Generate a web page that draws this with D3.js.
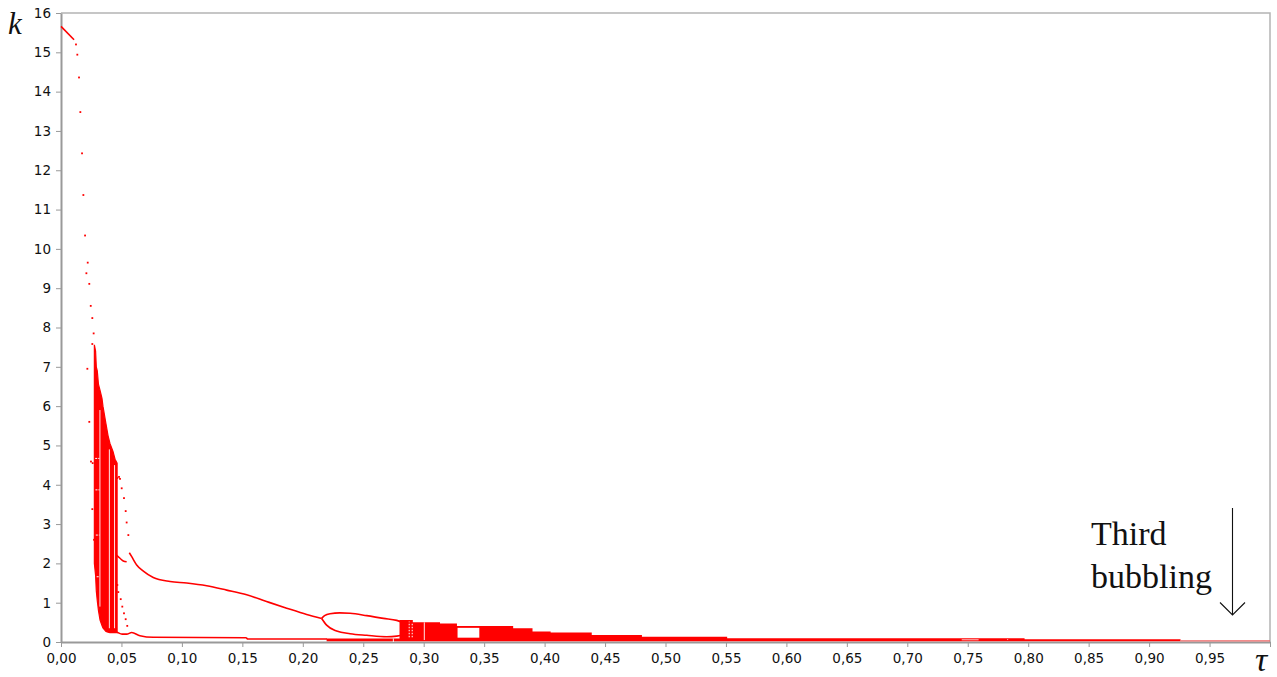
<!DOCTYPE html>
<html>
<head>
<meta charset="utf-8">
<script src="https://cdn.jsdelivr.net/npm/d3@7"></script>
<style>
  html, body { margin: 0; padding: 0; background: #fff; }
  #chart { width: 1277px; height: 677px; }
</style>
</head>
<body>
<div id="chart"></div>
<script>
(function () {
  const W = 1277, H = 677;
  const PLOT = { left: 61, right: 1270, top: 13, bottom: 642 };
  const RED = "#ff0000";

  // tick values
  const xTicks = [0, 0.05, 0.10, 0.15, 0.20, 0.25, 0.30, 0.35, 0.40, 0.45, 0.50,
                  0.55, 0.60, 0.65, 0.70, 0.75, 0.80, 0.85, 0.90, 0.95];
  const yTicks = [0, 1, 2, 3, 4, 5, 6, 7, 8, 9, 10, 11, 12, 13, 14, 15, 16];

  // [tau, k] readings
  const startLine = [[0, 15.66], [0.0108, 15.32]];
  const dropDots = [
    [0.0124, 15.2], [0.0135, 14.94], [0.0149, 14.36], [0.0160, 13.48],
    [0.0174, 12.43], [0.0185, 11.37], [0.0199, 10.34], [0.0221, 9.65],
    [0.0210, 9.38], [0.0234, 9.11], [0.0246, 8.55], [0.0259, 8.24],
    [0.0270, 7.85], [0.0259, 7.58]
  ];
  const leftDots = [
    [0.0218, 6.95], [0.0234, 5.6], [0.0248, 4.59], [0.0262, 4.55],
    [0.0259, 3.38], [0.0273, 2.6]
  ];
  const rightDotsHigh = [
    [0.0466, 4.17], [0.0480, 4.2], [0.0488, 4.15], [0.0502, 3.91],
    [0.0521, 3.66], [0.0535, 3.33], [0.0543, 3.04], [0.0557, 2.72]
  ];
  const rightDotsLow = [
    [0.0466, 1.45], [0.0474, 1.27], [0.0494, 1.09], [0.0507, 0.9],
    [0.0521, 0.73], [0.0535, 0.58], [0.0548, 0.41]
  ];

  // chaotic band: [tau, kLow, kHigh]
  const chaosBand = [
    [0.0276, 2.0, 7.56], [0.0286, 1.7, 7.4], [0.0292, 1.3, 7.0],
    [0.0300, 1.05, 6.9], [0.0310, 0.8, 6.55], [0.0323, 0.56, 6.4],
    [0.0339, 0.42, 6.2], [0.0347, 0.36, 6.0], [0.0372, 0.27, 5.55],
    [0.0389, 0.25, 5.25], [0.0405, 0.24, 5.05], [0.0430, 0.24, 4.85],
    [0.0447, 0.24, 4.65], [0.0464, 0.24, 4.55]
  ];
  // white slits inside the chaotic band: [tau, kLow, kHigh]
  const chaosGaps = [[0.0322, 0.9, 5.9], [0.0400, 0.35, 4.9], [0.0443, 0.35, 4.5]];
  // periodic windows seen as white dashes: [k, tau0, tau1]
  const chaosWindows = [[4.67, 0.0283, 0.0318], [3.87, 0.0285, 0.0318],
                        [2.72, 0.0288, 0.0318], [1.66, 0.0295, 0.0318]];

  const cuspLine = [[0.0452, 2.23], [0.0488, 2.13], [0.0515, 2.06], [0.0543, 2.04]];
  const upperBranch = [
    [0.0565, 2.27], [0.0585, 2.17], [0.0626, 1.96], [0.0681, 1.8],
    [0.0763, 1.64], [0.0902, 1.54], [0.1040, 1.5], [0.1205, 1.43],
    [0.1370, 1.32], [0.1536, 1.2], [0.1700, 1.03], [0.1867, 0.86],
    [0.2032, 0.70], [0.2156, 0.60]
  ];
  const bubbleUpper = [
    [0.2156, 0.60], [0.2180, 0.67], [0.2225, 0.72], [0.2305, 0.74],
    [0.2391, 0.73], [0.2529, 0.67], [0.2667, 0.60], [0.2777, 0.55],
    [0.2860, 0.45], [0.2900, 0.38]
  ];
  const bubbleLower = [
    [0.2156, 0.60], [0.2197, 0.43], [0.2280, 0.28], [0.2391, 0.21],
    [0.2529, 0.17], [0.2694, 0.135], [0.2777, 0.15], [0.2859, 0.22],
    [0.2900, 0.31]
  ];
  const lowerBranch = [
    [0.0440, 0.26], [0.0461, 0.25], [0.0505, 0.2], [0.0543, 0.2],
    [0.0585, 0.24], [0.0653, 0.16], [0.0763, 0.12], [0.1530, 0.11],
    [0.1545, 0.076], [0.2200, 0.076]
  ];
  // dense region along the bottom, step tops: [tau, kHigh]
  const bandTop = [
    [0.2197, 0.09], [0.2800, 0.56], [0.2910, 0.50], [0.3135, 0.47],
    [0.3275, 0.41], [0.3740, 0.35], [0.3900, 0.27], [0.4050, 0.24],
    [0.4390, 0.18], [0.4805, 0.135], [0.5510, 0.094], [0.7970, 0.07],
    [0.9260, 0.07]
  ];
  // white holes in the band: [tau0, tau1, kLow, kHigh]
  const bandHoles = [[0.328, 0.346, 0.11, 0.36], [0.745, 0.759, 0.045, 0.065]];
  const bandGaps = [[0.3005, 0.05, 0.50], [0.2749, 0.0, 0.09], [0.7830, 0.05, 0.07]];
  const bandDotGaps = [[0.2880, 0.12, 0.52], [0.2905, 0.12, 0.50]];
  const tailLine = [[0.926, 0.03], [1.0, 0.03]];

  const svg = d3.select("#chart").append("svg")
    .attr("width", W)
    .attr("height", H);

  const x = d3.scaleLinear().domain([0, 1]).range([PLOT.left, PLOT.right]);
  const y = d3.scaleLinear().domain([0, 16]).range([PLOT.bottom, PLOT.top]);
  const fmtX = v => d3.format(".2f")(v).replace(".", ",");

  // frame
  svg.append("path")
    .attr("d", `M${PLOT.left},${PLOT.top}H${PLOT.right}V${PLOT.bottom}`)
    .attr("fill", "none")
    .attr("stroke", "#b4b4b4")
    .attr("stroke-width", 1.5);

  const xAxis = svg.append("g")
    .attr("transform", `translate(0,${PLOT.bottom})`)
    .call(d3.axisBottom(x).tickValues(xTicks.concat([1])).tickFormat(fmtX)
      .tickSize(5).tickSizeOuter(0));
  xAxis.selectAll(".tick").filter(d => d === 1).select("text").remove();

  const yAxis = svg.append("g")
    .attr("transform", `translate(${PLOT.left},0)`)
    .call(d3.axisLeft(y).tickValues(yTicks).tickFormat(d3.format("d"))
      .tickSize(5).tickSizeOuter(0));

  [xAxis, yAxis].forEach(g => {
    g.select(".domain").attr("stroke", "#999").attr("stroke-width", 2);
    g.selectAll(".tick line").attr("stroke", "#999");
    g.selectAll(".tick text")
      .attr("fill", "#111")
      .style("font-family", "'DejaVu Sans', Verdana, sans-serif")
      .style("font-size", "13.5px");
  });
  xAxis.selectAll(".tick text").attr("dy", "0.98em");
  yAxis.selectAll(".tick text").attr("x", -10);

  const marks = svg.append("g");
  const line = d3.line().x(d => x(d[0])).y(d => y(d[1]));

  // dense band along the bottom
  marks.append("path")
    .datum(bandTop)
    .attr("d", d3.area().curve(d3.curveStepAfter)
      .x(d => x(d[0])).y0(y(0.02)).y1(d => y(d[1])))
    .attr("fill", RED);

  // chaotic band
  marks.append("path")
    .datum(chaosBand)
    .attr("d", d3.area().x(d => x(d[0])).y0(d => y(d[1])).y1(d => y(d[2])))
    .attr("fill", RED)
    .attr("stroke", RED)
    .attr("stroke-width", 1.2);

  // curves
  [startLine, cuspLine, upperBranch, bubbleUpper, bubbleLower, lowerBranch].forEach(s => {
    marks.append("path")
      .datum(s)
      .attr("d", line.curve(d3.curveMonotoneX))
      .attr("fill", "none")
      .attr("stroke", RED)
      .attr("stroke-width", 1.6);
  });

  marks.append("path")
    .datum(tailLine)
    .attr("d", line.curve(d3.curveLinear))
    .attr("fill", "none")
    .attr("stroke", "#e66")
    .attr("stroke-width", 1.3);

  // white gaps and holes
  marks.selectAll("rect.hole")
    .data(bandHoles)
    .join("rect")
    .attr("class", "hole")
    .attr("x", d => x(d[0]))
    .attr("width", d => x(d[1]) - x(d[0]))
    .attr("y", d => y(d[3]))
    .attr("height", d => y(d[2]) - y(d[3]))
    .attr("fill", "#fff");

  marks.selectAll("line.gap")
    .data(chaosGaps.concat(bandGaps))
    .join("line")
    .attr("class", "gap")
    .attr("x1", d => x(d[0])).attr("x2", d => x(d[0]))
    .attr("y1", d => y(d[1])).attr("y2", d => y(d[2]))
    .attr("stroke", "#fff")
    .attr("stroke-width", 0.9);

  marks.selectAll("line.dgap")
    .data(bandDotGaps)
    .join("line")
    .attr("class", "dgap")
    .attr("x1", d => x(d[0])).attr("x2", d => x(d[0]))
    .attr("y1", d => y(d[1])).attr("y2", d => y(d[2]))
    .attr("stroke", "#fff")
    .attr("stroke-width", 1)
    .attr("stroke-dasharray", "1.5,1.5");

  marks.selectAll("line.win")
    .data(chaosWindows)
    .join("line")
    .attr("class", "win")
    .attr("x1", d => x(d[1])).attr("x2", d => x(d[2]))
    .attr("y1", d => y(d[0])).attr("y2", d => y(d[0]))
    .attr("stroke", "#fff")
    .attr("stroke-width", 1)
    .attr("stroke-dasharray", "2,1");

  // scattered points
  marks.selectAll("rect.dot")
    .data(dropDots.concat(leftDots, rightDotsHigh, rightDotsLow))
    .join("rect")
    .attr("class", "dot")
    .attr("x", d => x(d[0]) - 0.9)
    .attr("y", d => y(d[1]) - 0.9)
    .attr("width", 1.8)
    .attr("height", 1.8)
    .attr("fill", RED);

  // axis symbols
  svg.append("text")
    .attr("x", 8).attr("y", 34)
    .style("font-family", "'Liberation Serif', 'Times New Roman', serif")
    .style("font-style", "italic")
    .style("font-size", "31px")
    .attr("fill", "#111")
    .text("k");

  svg.append("text")
    .attr("x", 1255).attr("y", 671)
    .style("font-family", "'Liberation Serif', 'Times New Roman', serif")
    .style("font-style", "italic")
    .style("font-size", "34px")
    .attr("fill", "#111")
    .text("τ");

  // annotation
  const note = svg.append("text")
    .style("font-family", "'Liberation Serif', 'Times New Roman', serif")
    .style("font-size", "34px")
    .attr("fill", "#111");
  note.append("tspan").attr("x", 1091).attr("y", 545).text("Third");
  note.append("tspan").attr("x", 1091).attr("y", 588).text("bubbling");

  const ax = 1232.5, ay0 = 508, ay1 = 615;
  svg.append("path")
    .attr("d", `M${ax},${ay0}V${ay1}M${ax - 12.5},${ay1 - 12.5}L${ax},${ay1}L${ax + 12.5},${ay1 - 12.5}`)
    .attr("fill", "none")
    .attr("stroke", "#111")
    .attr("stroke-width", 1.1);
})();
</script>
</body>
</html>
